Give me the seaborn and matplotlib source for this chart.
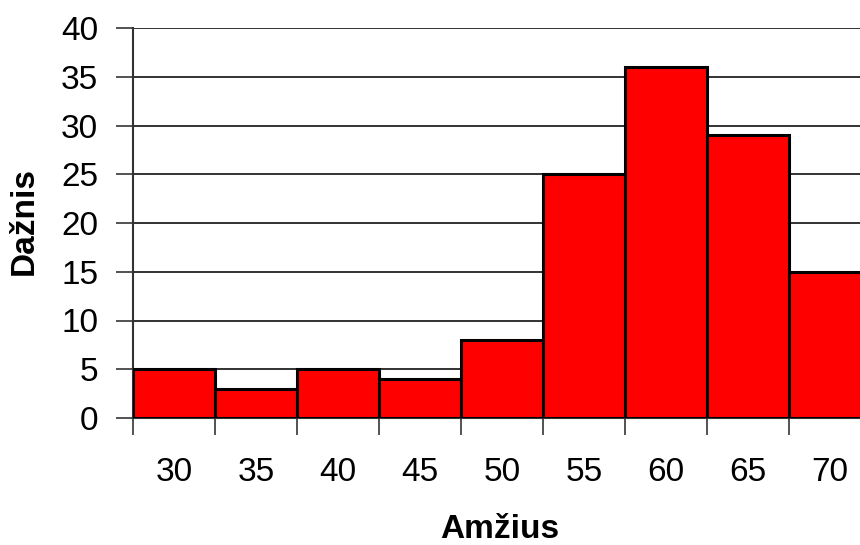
import matplotlib
matplotlib.use("Agg")
import matplotlib.pyplot as plt
import seaborn as sns
import pandas as pd
import numpy as np

categories = ["30", "35", "40", "45", "50", "55", "60", "65", "70"]
frequencies = [5, 3, 5, 4, 8, 25, 36, 29, 15]
y_ticks = [0, 5, 10, 15, 20, 25, 30, 35, 40]

df = pd.DataFrame({"Amžius": categories, "Dažnis": frequencies})

sns.set_style("white")
plt.rcParams["font.family"] = ["Liberation Sans", "DejaVu Sans"]
plt.rcParams["text.color"] = "black"
plt.rcParams["xtick.labelcolor"] = "black"
plt.rcParams["ytick.labelcolor"] = "black"

fig = plt.figure(figsize=(8.6, 5.45), dpi=100)
ax = fig.add_axes([133/860, 127/545, 738/860, 390/545])

sns.barplot(data=df, x="Amžius", y="Dažnis", color="#FF0000", width=1.0,
            edgecolor="black", linewidth=2.2, saturation=1, ax=ax, zorder=3)

ax.set_ylim(0, 40)
ax.set_xlim(-0.5, len(categories) - 0.5)
ax.set_yticks(y_ticks)
ax.yaxis.grid(True, color="#222222", linewidth=1.3, zorder=0)
ax.set_axisbelow(True)

# tick marks at bar edges, labels at bar centres
ax.set_xticks(np.arange(-0.5, len(categories), 1.0))
ax.set_xticklabels([])
ax.set_xticks(np.arange(len(categories)), minor=True)
ax.set_xticklabels(categories, minor=True)
ax.tick_params(axis="x", which="major", length=12, width=1.3, color="#444444", direction="out", bottom=True)
ax.tick_params(axis="x", which="minor", length=0, labelsize=24, pad=28, labelcolor="black")
ax.tick_params(axis="y", length=12, width=1.3, color="#444444", direction="out", labelsize=24, pad=13, left=True, labelcolor="black")

for s in ["top", "right"]:
    ax.spines[s].set_visible(False)
for s in ["left", "bottom"]:
    ax.spines[s].set_color("#333333")
    ax.spines[s].set_linewidth(1.5)

ax.set_xlabel("")
ax.set_ylabel("")
fig.text(500/860, 1 - 530/545, "Amžius", ha="center", va="center", fontsize=24, fontweight="bold", color="black")
fig.text(24/860, 1 - 221/545, "Dažnis", ha="center", va="center", fontsize=24, fontweight="bold", rotation=90, color="black")

fig.savefig("out.png", dpi=100)
